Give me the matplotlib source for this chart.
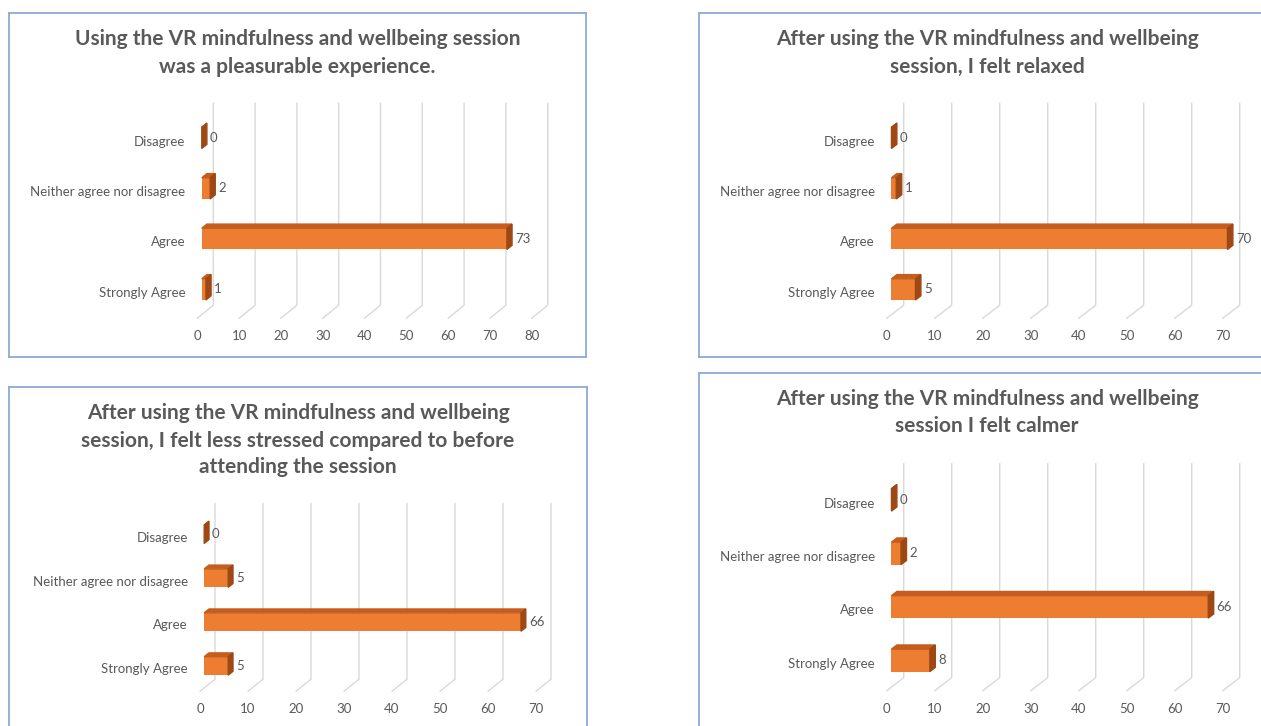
import matplotlib
matplotlib.use('Agg')
import matplotlib.pyplot as plt
from matplotlib.patches import Polygon

plt.rcParams['font.family'] = ['Lato', 'DejaVu Sans']

# survey answers, bottom to top as drawn
categories = ['Strongly Agree', 'Agree', 'Neither agree nor disagree', 'Disagree']
pleasurable = [1, 73, 2, 0]
relaxed = [5, 70, 1, 0]
less_stressed = [5, 66, 5, 0]
calmer = [8, 66, 2, 0]

title_pleasurable = ['Using the VR mindfulness and wellbeing session',
                     'was a pleasurable experience.']
title_relaxed = ['After using the VR mindfulness and wellbeing',
                 'session, I felt relaxed']
title_stressed = ['After using the VR mindfulness and wellbeing',
                  'session, I felt less stressed compared to before',
                  'attending the session']
title_calmer = ['After using the VR mindfulness and wellbeing',
                'session I felt calmer']

W, H = 1261, 726
TEXT = '#595959'
FRONT = '#ED7D31'
TOP = '#C45E1E'
SIDE = '#9E4915'
GRID = '#D9D9D9'
BORDER = '#8EAADB'


def draw_panel(fig, values, title, box, x0, ppu, y0, sp, xmax, back, title_y, title_cx):
    L, T, R, B = box
    ax = fig.add_axes([L / W, 1 - B / H, (R - L) / W, (B - T) / H])
    ax.set_xlim((L - x0) / ppu, (R - x0) / ppu)
    ax.set_ylim((y0 - B) / sp, (y0 - T) / sp)
    ax.set_xticks([])
    ax.set_yticks([])
    for s in ax.spines.values():
        s.set_color(BORDER)
        s.set_linewidth(1.3)

    px = 1.0 / ppu   # one pixel in x data units
    py = 1.0 / sp    # one pixel in y data units
    DX = back[0] * px
    DY = back[1] * py
    n = len(categories)

    # back wall gridlines + floor diagonals
    for t in range(0, xmax + 1, 10):
        ax.plot([t, t + DX, t + DX], [-0.5, -0.5 + DY, n - 0.5 + DY],
                color=GRID, lw=1.0, zorder=1)
        ax.text(t, -0.5 - 18 * py, str(t), ha='center', va='center',
                fontsize=9.5, color=TEXT)

    # 3d looking bars
    f0, f1 = 0.28, 0.6
    h = 0.42
    for i, v in enumerate(values):
        yc = i + f0 * DY
        left = f0 * DX
        ax.barh(yc, v, height=h, left=left, color=FRONT, zorder=3)
        top = yc + h / 2
        bot = yc - h / 2
        ddx = (f1 - f0) * DX
        ddy = (f1 - f0) * DY
        ax.add_patch(Polygon([(left, top), (left + v, top), (left + v + ddx, top + ddy),
                              (left + ddx, top + ddy)], closed=True, color=TOP, zorder=3))
        ax.add_patch(Polygon([(left + v, bot), (left + v, top), (left + v + ddx, top + ddy),
                              (left + v + ddx, bot + ddy)], closed=True, color=SIDE, zorder=3))
        ax.text(left + v + ddx + 3 * px, yc, str(v), ha='left', va='center',
                fontsize=9.5, color=TEXT, zorder=4)
        ax.text(-12 * px, i, categories[i], ha='right', va='center',
                fontsize=9.5, color=TEXT)

    for line, ty in zip(title, title_y):
        ax.text((title_cx - L) / (R - L), (B - ty) / (B - T), line, transform=ax.transAxes,
                ha='center', va='center', fontsize=15, fontweight='bold', color=TEXT)
    return ax


fig = plt.figure(figsize=(W / 100, H / 100), dpi=100)

draw_panel(fig, pleasurable, title_pleasurable, (9, 13, 586, 357),
           197.3, 4.18, 293, 50.5, 80, (16, 13), [39, 67], 297.5)
draw_panel(fig, relaxed, title_relaxed, (699, 13, 1275, 357),
           886.7, 4.8, 293, 50.5, 70, (17, 13), [39, 67], 987)
draw_panel(fig, less_stressed, title_stressed, (9, 387, 587, 730),
           200, 4.8, 669.3, 43.9, 70, (15, 12), [413, 441, 467], 298)
draw_panel(fig, calmer, title_calmer, (699, 373, 1275, 730),
           886.7, 4.8, 664, 53.5, 70, (17, 13), [399, 426], 987)

plt.savefig('out.png', dpi=100)
